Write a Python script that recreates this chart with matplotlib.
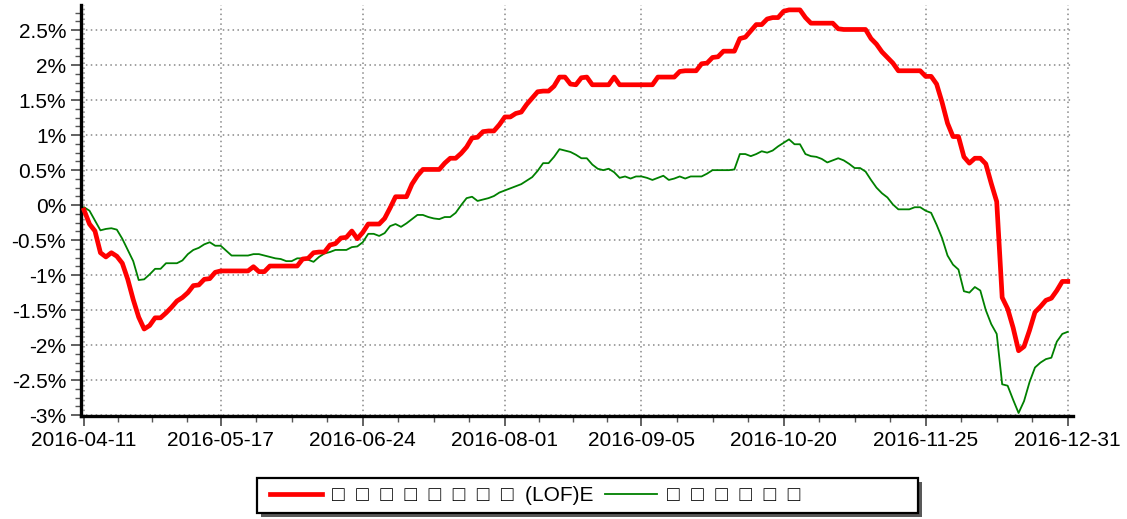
"""Fund vs benchmark cumulative return, 2016-04-11 .. 2016-12-31."""

import matplotlib
matplotlib.use("Agg")
import matplotlib.pyplot as plt
import numpy as np
import pandas as pd
from matplotlib.patches import Rectangle
from matplotlib.ticker import FixedLocator, FuncFormatter, MultipleLocator

# trading days (Shanghai calendar) plus the year-end NAV date
holidays = ["2016-05-02", "2016-06-09", "2016-06-10", "2016-09-15", "2016-09-16",
            "2016-10-03", "2016-10-04", "2016-10-05", "2016-10-06", "2016-10-07"]
dates = pd.bdate_range("2016-04-11", "2016-12-30")
dates = dates[~dates.isin(pd.to_datetime(holidays))].append(pd.DatetimeIndex(["2016-12-31"]))

tick_dates = ["2016-04-11", "2016-05-17", "2016-06-24", "2016-08-01",
              "2016-09-05", "2016-10-20", "2016-11-25", "2016-12-31"]

fund_label = "□  □  □  □  □  □  □  □  (LOF)E"
bench_label = "□  □  □  □  □  □"

# cumulative return, %
fund = [
    -0.07, -0.27, -0.37, -0.68, -0.74, -0.68, -0.73, -0.83, -1.06, -1.35,
    -1.60, -1.77, -1.72, -1.61, -1.61, -1.54, -1.46, -1.37, -1.32, -1.25,
    -1.15, -1.14, -1.06, -1.05, -0.96, -0.94, -0.94, -0.94, -0.94, -0.94,
    -0.94, -0.88, -0.95, -0.95, -0.87, -0.87, -0.87, -0.87, -0.87, -0.87,
    -0.77, -0.76, -0.68, -0.67, -0.67, -0.57, -0.55, -0.47, -0.46, -0.37,
    -0.48, -0.39, -0.27, -0.27, -0.27, -0.19, -0.04, 0.12, 0.12, 0.12,
    0.30, 0.42, 0.51, 0.51, 0.51, 0.51, 0.60, 0.67, 0.67, 0.74,
    0.83, 0.96, 0.97, 1.05, 1.06, 1.06, 1.15, 1.26, 1.26, 1.31,
    1.33, 1.44, 1.53, 1.62, 1.63, 1.63, 1.70, 1.83, 1.83, 1.73,
    1.72, 1.82, 1.83, 1.72, 1.72, 1.72, 1.72, 1.83, 1.72, 1.72,
    1.72, 1.72, 1.72, 1.72, 1.72, 1.83, 1.83, 1.83, 1.83, 1.91,
    1.92, 1.92, 1.92, 2.02, 2.03, 2.11, 2.12, 2.20, 2.20, 2.20,
    2.38, 2.40, 2.49, 2.58, 2.58, 2.66, 2.68, 2.68, 2.77, 2.79,
    2.79, 2.79, 2.68, 2.60, 2.60, 2.60, 2.60, 2.60, 2.52, 2.51,
    2.51, 2.51, 2.51, 2.51, 2.38, 2.30, 2.19, 2.11, 2.03, 1.92,
    1.92, 1.92, 1.92, 1.92, 1.84, 1.84, 1.73, 1.47, 1.17, 0.98,
    0.98, 0.69, 0.60, 0.67, 0.67, 0.59, 0.31, 0.05, -1.32, -1.48,
    -1.75, -2.08, -2.02, -1.79, -1.53, -1.45, -1.36, -1.33, -1.22, -1.09,
    -1.09,
]

bench = [
    -0.03, -0.08, -0.22, -0.36, -0.34, -0.33, -0.35, -0.48, -0.64, -0.80,
    -1.07, -1.06, -0.99, -0.91, -0.91, -0.83, -0.83, -0.83, -0.79, -0.70,
    -0.64, -0.61, -0.56, -0.53, -0.58, -0.58, -0.65, -0.72, -0.72, -0.72,
    -0.72, -0.70, -0.70, -0.72, -0.74, -0.76, -0.77, -0.80, -0.80, -0.76,
    -0.76, -0.78, -0.81, -0.74, -0.69, -0.67, -0.64, -0.64, -0.64, -0.60,
    -0.59, -0.53, -0.41, -0.41, -0.44, -0.40, -0.30, -0.27, -0.31, -0.26,
    -0.20, -0.14, -0.14, -0.17, -0.19, -0.20, -0.17, -0.17, -0.11, 0.00,
    0.10, 0.12, 0.06, 0.08, 0.10, 0.13, 0.18, 0.21, 0.24, 0.27,
    0.30, 0.35, 0.40, 0.49, 0.60, 0.60, 0.69, 0.80, 0.78, 0.76,
    0.72, 0.67, 0.67, 0.58, 0.52, 0.50, 0.52, 0.47, 0.39, 0.41,
    0.38, 0.41, 0.41, 0.39, 0.36, 0.39, 0.42, 0.36, 0.38, 0.41,
    0.38, 0.41, 0.41, 0.41, 0.45, 0.50, 0.50, 0.50, 0.50, 0.51,
    0.73, 0.73, 0.70, 0.73, 0.77, 0.75, 0.78, 0.84, 0.89, 0.94,
    0.87, 0.87, 0.73, 0.70, 0.69, 0.66, 0.61, 0.64, 0.67, 0.64,
    0.59, 0.53, 0.53, 0.48, 0.36, 0.25, 0.17, 0.11, 0.01, -0.06,
    -0.06, -0.06, -0.03, -0.03, -0.08, -0.11, -0.28, -0.47, -0.72, -0.85,
    -0.92, -1.23, -1.25, -1.17, -1.22, -1.50, -1.70, -1.84, -2.56, -2.58,
    -2.78, -2.97, -2.80, -2.53, -2.32, -2.25, -2.20, -2.18, -1.95, -1.84,
    -1.81,
]

plt.rcParams["font.family"] = ["Liberation Sans", "DejaVu Sans"]

W, H = 1127, 519
fig = plt.figure(figsize=(W / 100, H / 100), dpi=100)
ax = fig.add_axes([0.0719, 0.1975, 0.8799, 0.7929])

x = np.arange(len(dates))
ax.plot(x, fund, color="#ff0000", lw=3.4, solid_joinstyle="round", label=fund_label, zorder=3)
ax.plot(x, bench, color="#008000", lw=1.3, label=bench_label, zorder=2)

ax.set_xlim(-0.55, len(dates) - 0.1)
ax.set_ylim(-3.02, 2.86)

# x axis: trading-day index, labelled at selected dates
tick_pos = [int(dates.get_loc(pd.Timestamp(d))) for d in tick_dates]
ax.xaxis.set_major_locator(FixedLocator(tick_pos))
ax.set_xticklabels(tick_dates)
minor = []
for a, b in zip(tick_pos[:-1], tick_pos[1:]):
    minor += list(np.linspace(a, b, 5)[1:-1])
ax.xaxis.set_minor_locator(FixedLocator(minor))

ax.yaxis.set_major_locator(MultipleLocator(0.5))
ax.yaxis.set_minor_locator(MultipleLocator(0.125))
ax.yaxis.set_major_formatter(FuncFormatter(lambda v, _: f"{round(v, 2):g}%".replace("-0%", "0%")))

for side in ("top", "right"):
    ax.spines[side].set_visible(False)
for side in ("left", "bottom"):
    ax.spines[side].set_linewidth(2.4)
    ax.spines[side].set_color("black")

ax.tick_params(which="major", length=7.2, width=1.3, color="#555555", labelsize=15, pad=3.5)
ax.tick_params(which="minor", length=4.5, width=1.0, color="#555555")

ax.grid(True, which="major", color="#888888", linestyle=(0, (1, 2.2)), linewidth=1.1)

# legend frame drawn by hand (wider than its content, with a drop shadow)
box_l, box_r, box_t, box_b = 257, 918, 478, 513
shadow = Rectangle(((box_l + 4) / W, 1 - (box_b + 4) / H), (box_r - box_l) / W, (box_b - box_t) / H,
                   transform=fig.transFigure, facecolor="0.35", edgecolor="none", zorder=1)
frame = Rectangle((box_l / W, 1 - box_b / H), (box_r - box_l) / W, (box_b - box_t) / H,
                  transform=fig.transFigure, facecolor="white", edgecolor="black", lw=1.6, zorder=2)
fig.add_artist(shadow)
fig.add_artist(frame)

handles, labels = ax.get_legend_handles_labels()
leg = fig.legend(handles, labels, loc="center left",
                 bbox_to_anchor=(270 / W, 1 - (box_t + box_b) / 2 / H),
                 ncol=2, fontsize=15, frameon=False,
                 handlelength=2.5, columnspacing=0.55, handletextpad=0.48,
                 borderpad=0, borderaxespad=0)
leg.set_zorder(3)
for line in leg.get_lines():
    line.set_linewidth(3.4 if line.get_color() == "#ff0000" else 1.3)

fig.savefig("out.png", dpi=100)
